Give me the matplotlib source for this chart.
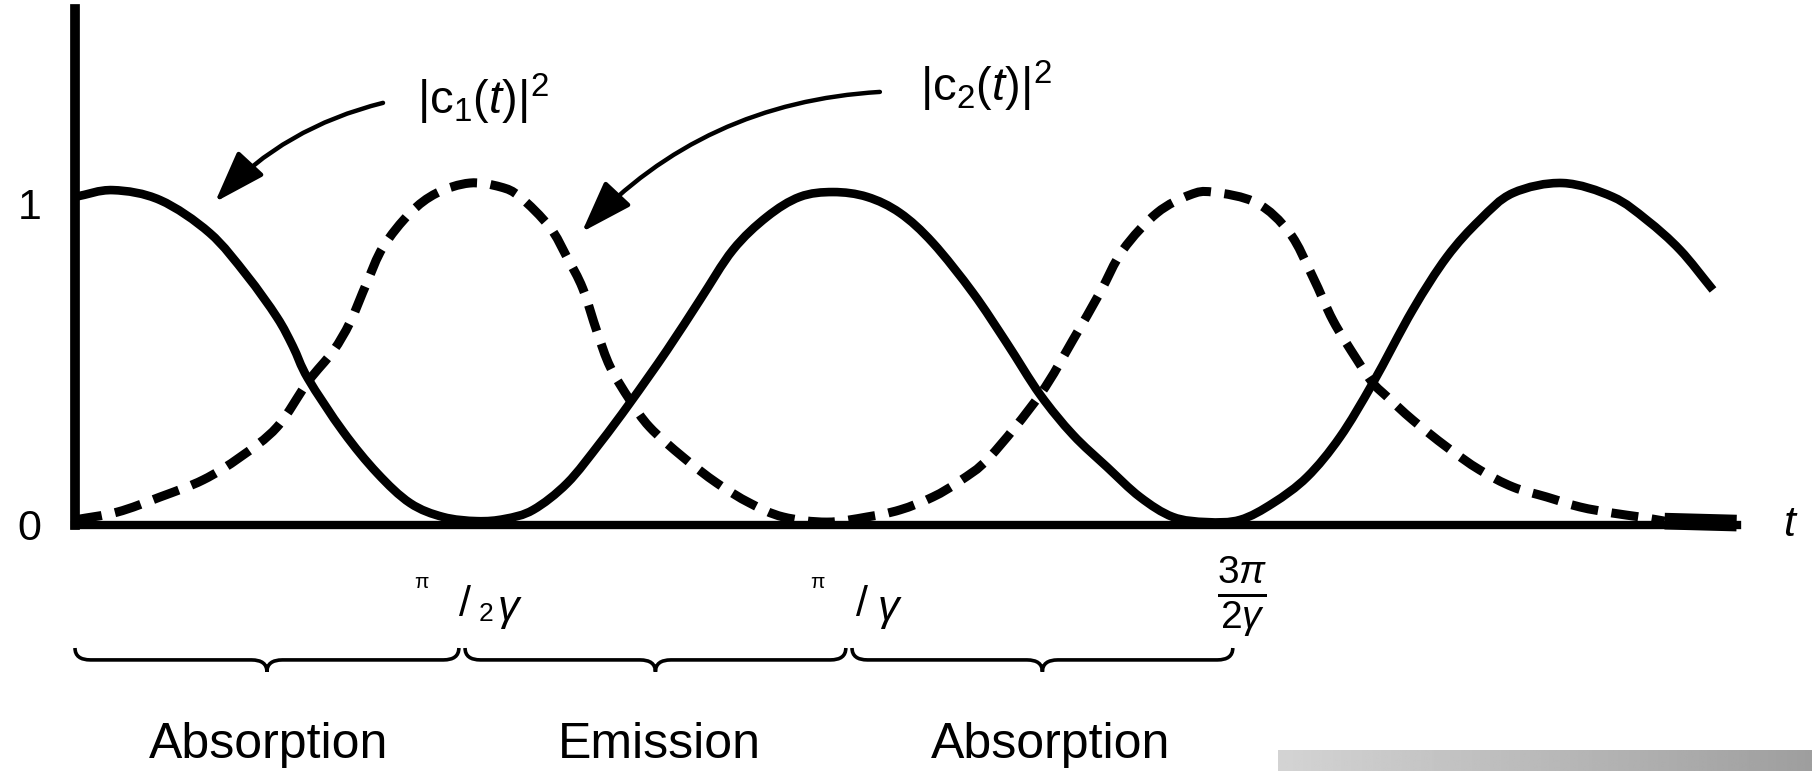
import numpy as np
import matplotlib
matplotlib.use('Agg')
import matplotlib.pyplot as plt
from matplotlib.path import Path
from matplotlib.patches import PathPatch
from matplotlib.transforms import ScaledTranslation

plt.rcParams['font.family'] = ['Liberation Sans', 'DejaVu Sans']
plt.rcParams['mathtext.fontset'] = 'custom'
plt.rcParams['mathtext.rm'] = 'Liberation Sans'
plt.rcParams['mathtext.it'] = 'Liberation Sans:italic'

# time in units of pi/(2 gamma)
t_c1 = [0.000, 0.098, 0.220, 0.348, 0.444, 0.522, 0.563, 0.602, 0.693, 0.781,
        0.866, 0.951, 1.039, 1.111, 1.184, 1.272, 1.357, 1.434, 1.530, 1.615,
        1.700, 1.788, 1.873, 1.959, 2.047, 2.132, 2.217, 2.321, 2.408, 2.494,
        2.579, 2.667, 2.752, 2.837, 2.925, 3.011, 3.096, 3.184, 3.269, 3.354,
        3.457, 3.545, 3.630, 3.716, 3.845, 3.974, 4.062, 4.148, 4.233]
c1 = [1.019, 1.040, 1.009, 0.907, 0.775, 0.645, 0.555, 0.455, 0.290, 0.161,
      0.068, 0.025, 0.012, 0.019, 0.047, 0.130, 0.255, 0.379, 0.543, 0.699,
      0.854, 0.957, 1.019, 1.034, 1.019, 0.969, 0.876, 0.720, 0.565, 0.405,
      0.280, 0.180, 0.087, 0.025, 0.009, 0.016, 0.068, 0.149, 0.273, 0.441,
      0.668, 0.832, 0.947, 1.031, 1.062, 1.019, 0.947, 0.854, 0.730]

t_c2 = [0.000, 0.109, 0.220, 0.331, 0.427, 0.522, 0.602, 0.667, 0.711, 0.754,
        0.796, 0.866, 0.935, 1.020, 1.099, 1.150, 1.227, 1.272, 1.312, 1.349,
        1.383, 1.434, 1.485, 1.571, 1.659, 1.744, 1.830, 1.943, 2.047, 2.132,
        2.217, 2.287, 2.364, 2.494, 2.579, 2.648, 2.708, 2.796, 2.881, 2.940,
        3.054, 3.139, 3.199, 3.251, 3.312, 3.354, 3.391, 3.457, 3.545, 3.630,
        3.716, 3.803, 3.889, 3.974, 4.044, 4.108, 4.294]
c2 = [0.016, 0.040, 0.087, 0.140, 0.211, 0.304, 0.445, 0.540, 0.630, 0.752,
      0.863, 0.969, 1.031, 1.062, 1.050, 1.019, 0.925, 0.830, 0.735, 0.600,
      0.491, 0.388, 0.304, 0.211, 0.130, 0.068, 0.025, 0.009, 0.025, 0.047,
      0.087, 0.137, 0.211, 0.405, 0.575, 0.720, 0.854, 0.969, 1.025, 1.034,
      1.000, 0.907, 0.770, 0.635, 0.515, 0.441, 0.398, 0.326, 0.242, 0.171,
      0.118, 0.087, 0.056, 0.037, 0.025, 0.012, 0.006]

y_ticks = [0, 1]
y_tick_labels = ['0', '1']
t_marks = [1, 2, 3]   # pi/2g, pi/g, 3pi/2g
regions = ['Absorption', 'Emission', 'Absorption']
label_c1 = r'$\mathrm{|c_1(}t\mathrm{)|^2}$'
label_c2 = r'$\mathrm{|c_2(}t\mathrm{)|^2}$'

fig = plt.figure(figsize=(18.12, 7.71), dpi=100)
ax = fig.add_axes([75 / 1812, 246 / 771, 1662 / 1812, 516 / 771])
ax.set_xlim(0, 4.295)
ax.set_ylim(0, 1.6025)


def smooth_path(xs, ys):
    # cubic bezier through the read points (Catmull-Rom tangents)
    p = np.column_stack([xs, ys])
    m = np.empty_like(p)
    m[1:-1] = (p[2:] - p[:-2]) / 2
    m[0] = p[1] - p[0]
    m[-1] = p[-1] - p[-2]
    verts = [p[0]]
    codes = [Path.MOVETO]
    for i in range(len(p) - 1):
        verts += [p[i] + m[i] / 3, p[i + 1] - m[i + 1] / 3, p[i + 1]]
        codes += [Path.CURVE4] * 3
    return Path(verts, codes)


ax.add_patch(PathPatch(smooth_path(t_c1, c1), fill=False, color='black',
                       lw=6.2, capstyle='butt', clip_on=False))
ax.add_patch(PathPatch(smooth_path(t_c2[:-1], c2[:-1]), fill=False,
                       color='black', lw=6.5, linestyle=(0, (3.0, 1.5)),
                       capstyle='butt', clip_on=False))
ax.plot(t_c2[-2:], c2[-2:], color='black', lw=12, solid_capstyle='butt',
        clip_on=False)

for s in ['top', 'right']:
    ax.spines[s].set_visible(False)
ax.spines['left'].set_linewidth(7)
ax.spines['bottom'].set_linewidth(6)
ax.set_xticks([])
ax.set_yticks(y_ticks)
ax.set_yticklabels(y_tick_labels, fontsize=31)
ax.tick_params(axis='y', length=0, pad=24)

# t label at the end of the axis
ax.text(1.028, 0.0, 't', transform=ax.transAxes, fontsize=31, style='italic',
        ha='left', va='center')

# curve labels with arrows
arrow_kw = dict(arrowstyle='-|>,head_length=1.6,head_width=0.55', color='black',
                lw=3.2, mutation_scale=20, shrinkA=0, shrinkB=0)
ax.annotate('', xy=(0.362, 1.003), xytext=(0.796, 1.311),
            arrowprops=dict(connectionstyle='arc3,rad=0.15', **arrow_kw),
            annotation_clip=False)
ax.text(0.884, 1.322, label_c1, fontsize=34, ha='left', va='center')
ax.annotate('', xy=(1.310, 0.910), xytext=(2.080, 1.345),
            arrowprops=dict(connectionstyle='arc3,rad=0.2', **arrow_kw),
            annotation_clip=False)
ax.text(2.183, 1.362, label_c2, fontsize=34, ha='left', va='center')


def px_off(dx, dy):
    # offset in pixels (dy measured downward from the time axis)
    return ax.transData + ScaledTranslation(dx / 100, -dy / 100, fig.dpi_scale_trans)


# time marks below the axis
ax.text(t_marks[0], 0, '\u03c0', transform=px_off(-41, 58), fontsize=15,
        ha='center', va='center', clip_on=False)
ax.text(t_marks[0], 0, '/', transform=px_off(3, 80), fontsize=31,
        ha='center', va='center', clip_on=False)
ax.text(t_marks[0], 0, '2', transform=px_off(24, 89), fontsize=19,
        ha='center', va='center', clip_on=False)
ax.text(t_marks[0], 0, '\u03b3', transform=px_off(46, 84), fontsize=31,
        style='italic', ha='center', va='center', clip_on=False)

ax.text(t_marks[1], 0, '\u03c0', transform=px_off(-32, 58), fontsize=15,
        ha='center', va='center', clip_on=False)
ax.text(t_marks[1], 0, '/', transform=px_off(13, 80), fontsize=31,
        ha='center', va='center', clip_on=False)
ax.text(t_marks[1], 0, '\u03b3', transform=px_off(39, 84), fontsize=31,
        style='italic', ha='center', va='center', clip_on=False)

ax.text(t_marks[2], 0, r'$\frac{3\pi}{2\gamma}$', transform=px_off(6, 72),
        fontsize=40, ha='center', va='center', clip_on=False)


def brace(x0, x1, y, h, tip, d):
    xm = (x0 + x1) / 2
    verts = [(x0, y + h), (x0, y), (x0 + d, y), (xm - d, y), (xm, y), (xm, y - tip),
             (xm, y), (xm + d, y), (x1 - d, y), (x1, y), (x1, y + h)]
    codes = [Path.MOVETO, Path.CURVE3, Path.CURVE3, Path.LINETO, Path.CURVE3,
             Path.CURVE3, Path.CURVE3, Path.CURVE3, Path.LINETO, Path.CURVE3,
             Path.CURVE3]
    ax.add_patch(PathPatch(Path(verts, codes), fill=False, lw=2.6,
                           color='black', clip_on=False))


starts = [0] + t_marks[:-1]
for i, (a, b) in enumerate(zip(starts, t_marks)):
    a0 = a + (0.008 if i > 0 else 0.0)
    b0 = b - 0.008
    brace(a0, b0, -0.419, 0.037, 0.037, 0.04)
    ax.text((a + b) / 2 + 0.01 * i, -0.683, regions[i], fontsize=36,
            ha='center', va='center', clip_on=False)

# grey scan strip at the lower right corner
gax = fig.add_axes([1278 / 1812, 0, 1 - 1278 / 1812, 21 / 771])
grad = np.linspace(0.83, 0.62, 200)[None, :]
gax.imshow(grad, cmap='gray', vmin=0, vmax=1, aspect='auto')
gax.axis('off')

fig.savefig('out.png', dpi=100)
